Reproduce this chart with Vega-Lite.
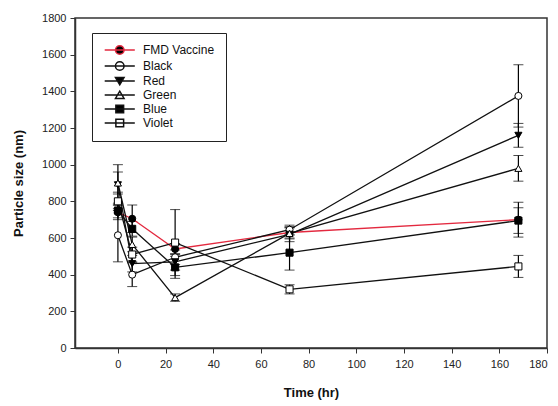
{
  "$schema": "https://vega.github.io/schema/vega-lite/v6.json",
  "width": 472,
  "height": 330,
  "autosize": "none",
  "padding": {"left": 75, "top": 18, "right": 11, "bottom": 58},
  "background": "white",
  "config": {
    "font": "Liberation Sans",
    "view": {"stroke": "#333", "strokeWidth": 1.5},
    "axis": {
      "grid": false,
      "domainColor": "#333",
      "domainWidth": 1.5,
      "tickColor": "#333",
      "tickSize": 5,
      "labelFont": "Liberation Sans",
      "labelFontSize": 11,
      "labelColor": "#222",
      "labelOverlap": false,
      "titleFont": "Liberation Sans",
      "titleFontSize": 13,
      "titleFontWeight": "bold",
      "titleColor": "#111"
    }
  },
  "data": {
    "values": [
      {"series": "FMD Vaccine", "time": 0, "size": 740, "lo": 700, "hi": 780},
      {"series": "FMD Vaccine", "time": 6, "size": 705, "lo": 630, "hi": 780},
      {"series": "FMD Vaccine", "time": 24, "size": 540, "lo": 510, "hi": 570},
      {"series": "FMD Vaccine", "time": 72, "size": 630, "lo": 600, "hi": 660},
      {"series": "FMD Vaccine", "time": 168, "size": 700, "lo": 605, "hi": 795},
      {"series": "Black", "time": 0, "size": 615, "lo": 470, "hi": 760},
      {"series": "Black", "time": 6, "size": 400, "lo": 335, "hi": 465},
      {"series": "Black", "time": 24, "size": 495, "lo": 455, "hi": 535},
      {"series": "Black", "time": 72, "size": 645, "lo": 620, "hi": 670},
      {"series": "Black", "time": 168, "size": 1375, "lo": 1205, "hi": 1545},
      {"series": "Red", "time": 0, "size": 890, "lo": 780, "hi": 1000},
      {"series": "Red", "time": 6, "size": 460, "lo": 415, "hi": 505},
      {"series": "Red", "time": 24, "size": 470, "lo": 425, "hi": 515},
      {"series": "Red", "time": 72, "size": 620, "lo": 580, "hi": 660},
      {"series": "Red", "time": 168, "size": 1160, "lo": 1095, "hi": 1225},
      {"series": "Green", "time": 0, "size": 900, "lo": 840, "hi": 960},
      {"series": "Green", "time": 6, "size": 565, "lo": 525, "hi": 605},
      {"series": "Green", "time": 24, "size": 275, "lo": 255, "hi": 295},
      {"series": "Green", "time": 72, "size": 625, "lo": 595, "hi": 655},
      {"series": "Green", "time": 168, "size": 980, "lo": 910, "hi": 1050},
      {"series": "Blue", "time": 0, "size": 750, "lo": 710, "hi": 790},
      {"series": "Blue", "time": 6, "size": 650, "lo": 610, "hi": 690},
      {"series": "Blue", "time": 24, "size": 440, "lo": 380, "hi": 500},
      {"series": "Blue", "time": 72, "size": 520, "lo": 425, "hi": 615},
      {"series": "Blue", "time": 168, "size": 695, "lo": 625, "hi": 765},
      {"series": "Violet", "time": 0, "size": 800, "lo": 750, "hi": 850},
      {"series": "Violet", "time": 6, "size": 510, "lo": 470, "hi": 550},
      {"series": "Violet", "time": 24, "size": 575, "lo": 395, "hi": 755},
      {"series": "Violet", "time": 72, "size": 320, "lo": 295, "hi": 345},
      {"series": "Violet", "time": 168, "size": 445, "lo": 385, "hi": 505}
    ]
  },
  "layer": [
    {
      "mark": {"type": "errorbar", "ticks": {"size": 10, "color": "black", "strokeWidth": 1.2}, "rule": {"color": "black", "strokeWidth": 1.2}},
      "encoding": {
        "x": {"field": "time", "type": "quantitative", "scale": {"domain": [-18, 180], "nice": false, "zero": false},
              "axis": {"title": "Time (hr)", "values": [0, 20, 40, 60, 80, 100, 120, 140, 160, 180], "format": "d", "labelPadding": 5, "titlePadding": 17}},
        "y": {"field": "lo", "type": "quantitative", "scale": {"domain": [0, 1800], "nice": false},
              "axis": {"title": "Particle size (nm)", "values": [0, 200, 400, 600, 800, 1000, 1200, 1400, 1600, 1800], "format": "d", "labelPadding": 4, "titlePadding": 16}},
        "y2": {"field": "hi"},
        "detail": {"field": "series"}
      }
    },
    {
      "mark": {"type": "line", "strokeWidth": 1.3},
      "encoding": {
        "x": {"field": "time", "type": "quantitative",
              "axis": {"title": "Time (hr)", "values": [0, 20, 40, 60, 80, 100, 120, 140, 160, 180], "format": "d", "labelPadding": 5, "titlePadding": 17}},
        "y": {"field": "size", "type": "quantitative",
              "axis": {"title": "Particle size (nm)", "values": [0, 200, 400, 600, 800, 1000, 1200, 1400, 1600, 1800], "format": "d", "labelPadding": 4, "titlePadding": 16}},
        "detail": {"field": "series"},
        "color": {"condition": {"test": "datum.series == 'FMD Vaccine'", "value": "#e3293f"}, "value": "#111111"}
      }
    },
    {
      "mark": {"type": "point", "filled": true, "size": 50, "stroke": "black", "strokeWidth": 1, "opacity": 1,
               "shape": {"expr": "datum.series == 'FMD Vaccine' || datum.series == 'Black' ? 'circle' : datum.series == 'Red' ? 'triangle-down' : datum.series == 'Green' ? 'triangle-up' : 'square'"}},
      "encoding": {
        "x": {"field": "time", "type": "quantitative",
              "axis": {"title": "Time (hr)", "values": [0, 20, 40, 60, 80, 100, 120, 140, 160, 180], "format": "d", "labelPadding": 5, "titlePadding": 17}},
        "y": {"field": "size", "type": "quantitative",
              "axis": {"title": "Particle size (nm)", "values": [0, 200, 400, 600, 800, 1000, 1200, 1400, 1600, 1800], "format": "d", "labelPadding": 4, "titlePadding": 16}},
        "fill": {"condition": {"test": "datum.series == 'FMD Vaccine' || datum.series == 'Red' || datum.series == 'Blue'", "value": "black"}, "value": "white"}
      }
    },
    {
      "transform": [{"filter": "false"}],
      "mark": {"type": "point", "filled": true, "size": 74, "opacity": 1, "strokeWidth": 1.2,
               "fill": {"expr": "(datum.value == 'FMD Vaccine' || datum.value == 'Red' || datum.value == 'Blue') ? 'black' : 'white'"},
               "stroke": {"expr": "datum.value == 'FMD Vaccine' ? '#e3293f' : '#111111'"}},
      "encoding": {
        "x": {"field": "time", "type": "quantitative",
              "axis": {"title": "Time (hr)", "values": [0, 20, 40, 60, 80, 100, 120, 140, 160, 180], "format": "d", "labelPadding": 5, "titlePadding": 17}},
        "y": {"field": "size", "type": "quantitative",
              "axis": {"title": "Particle size (nm)", "values": [0, 200, 400, 600, 800, 1000, 1200, 1400, 1600, 1800], "format": "d", "labelPadding": 4, "titlePadding": 16}},
        "shape": {"field": "series", "type": "nominal",
                  "scale": {"domain": ["FMD Vaccine", "Black", "Red", "Green", "Blue", "Violet"],
                            "range": [
                              "M-1,0H6M3.5,0A1,1,0,1,1,1.5,0A1,1,0,1,1,3.5,0Z",
                              "M-1,0H6M3.5,0A1,1,0,1,1,1.5,0A1,1,0,1,1,3.5,0Z",
                              "M-1,0H6M1.5,-0.8L3.5,-0.8L2.5,0.9Z",
                              "M-1,0H6M1.5,0.8L3.5,0.8L2.5,-0.9Z",
                              "M-1,0H6M1.6,-0.9H3.4V0.9H1.6Z",
                              "M-1,0H6M1.6,-0.9H3.4V0.9H1.6Z"
                            ]},
                  "legend": {
                    "title": null,
                    "orient": "none",
                    "legendX": 17,
                    "legendY": 15,
                    "fillColor": "white",
                    "strokeColor": "#222",
                    "padding": 11,
                    "symbolSize": 74,
                    "labelFont": "Liberation Sans",
                    "labelFontSize": 12,
                    "labelColor": "#111",
                    "labelOffset": 28,
                    "rowPadding": 0
                  }}
      }
    }
  ]
}
